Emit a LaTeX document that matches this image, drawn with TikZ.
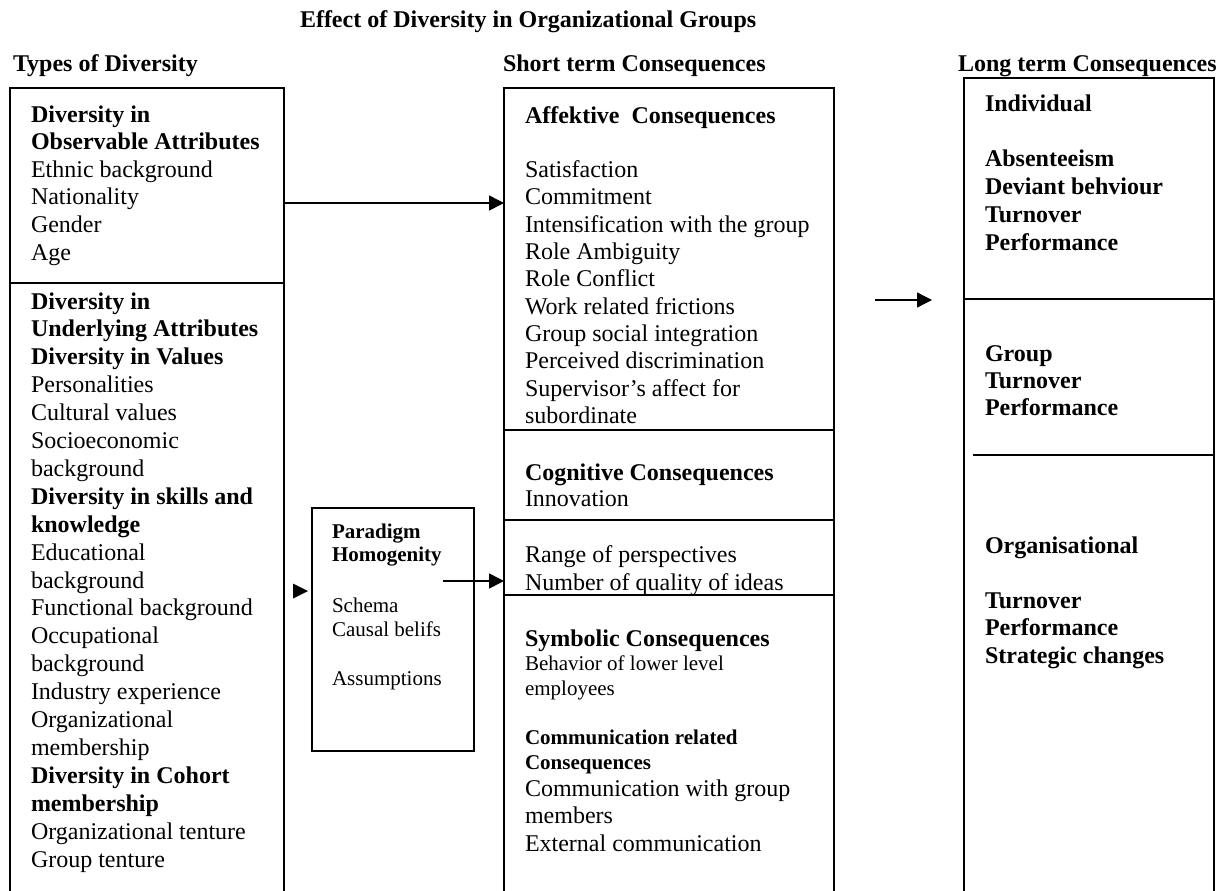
\documentclass[tikz,border=0pt]{standalone}
\usepackage{fontspec}
\setmainfont{Liberation Serif}
\usetikzlibrary{arrows.meta}
\newcommand\blk[3]{{\fontsize{#1}{#2}\selectfont\begin{tabular}[t]{@{}l@{}}#3\end{tabular}}}
\begin{document}
\begin{tikzpicture}[x=1pt,y=-1pt,
  frame/.style={draw, line width=1.7pt, anchor=north west, inner sep=0pt, outer sep=0pt},
  divider/.style={line width=1.7pt},
  txt/.style={anchor=base west, inner sep=0pt, outer sep=0pt},
  head/.style={txt, font=\fontsize{24}{27}\selectfont\bfseries},
  conn/.style={line width=1.6pt, -{Triangle[length=15pt,width=15pt]}}]
\useasboundingbox (0,0) rectangle (1223,891);

% boxes
\node[frame, minimum width=274pt, minimum height=830pt] (L) at (10,88) {};
\node[frame, minimum width=330pt, minimum height=830pt] (M) at (504,88) {};
\node[frame, minimum width=250pt, minimum height=840pt] (R) at (964,78) {};
\node[frame, minimum width=162pt, minimum height=243pt] (P) at (312,508) {};

% dividers
\draw[divider] (L.west |- 0,283) -- (L.east |- 0,283);
\draw[divider] (M.west |- 0,430) -- (M.east |- 0,430);
\draw[divider] (M.west |- 0,520) -- (M.east |- 0,520);
\draw[divider] (M.west |- 0,595) -- (M.east |- 0,595);
\draw[divider] (R.west |- 0,299) -- (R.east |- 0,299);
\coordinate (rd) at (973,455);
\draw[divider] (rd) -- (R.east |- rd);

% headings
\node[head] (title) at (300,28) {Effect of Diversity in Organizational Groups};
\node[head] (h1) at (13,71) {Types of Diversity};
\node[head] (h2) at (503,71) {Short term Consequences};
\node[head] (h3) at (958,71) {Long term Consequences};

% left texts
\node[txt] (l1) at (31,122) {\blk{24}{27.6}{\textbf{Diversity in}\\ \textbf{Observable Attributes}\\ Ethnic background\\ Nationality\\ Gender\\ Age}};
\node[txt] (l2) at (31,309) {\blk{24}{27.9}{\textbf{Diversity in}\\ \textbf{Underlying Attributes}\\ \textbf{Diversity in Values}\\ Personalities\\ Cultural values\\ Socioeconomic\\ background\\ \textbf{Diversity in skills and}\\ \textbf{knowledge}\\ Educational\\ background\\ Functional background\\ Occupational\\ background\\ Industry experience\\ Organizational\\ membership\\ \textbf{Diversity in Cohort}\\ \textbf{membership}\\ Organizational tenture\\ Group tenture}};

% paradigm box texts
\node[txt] (p1) at (332,538) {\blk{21}{23}{\textbf{Paradigm}\\ \textbf{Homogenity}}};
\node[txt] (p2) at (332,612) {\blk{21}{24.5}{Schema\\ Causal belifs\\ \\ Assumptions}};

% middle texts
\node[txt] (m1) at (525,123) {\blk{24}{27.3}{\textbf{Affektive\ \ Consequences}\\ \\ Satisfaction\\ Commitment\\ Intensification with the group\\ Role Ambiguity\\ Role Conflict\\ Work related frictions\\ Group social integration\\ Perceived discrimination\\ Supervisor’s affect for\\ subordinate}};
\node[txt] (m2) at (525,480) {\blk{24}{26.5}{\textbf{Cognitive Consequences}\\ Innovation}};
\node[txt] (m3) at (525,562) {\blk{24}{28}{Range of perspectives\\ Number of quality of ideas}};
\node[txt] (m4) at (525,646) {\blk{24}{27}{\textbf{Symbolic Consequences}}};
\node[txt] (m5) at (525,670) {\blk{21}{25}{Behavior of lower level\\ employees}};
\node[txt] (m6) at (525,744) {\blk{21}{25}{\textbf{Communication related}\\ \textbf{Consequences}}};
\node[txt] (m7) at (525,796) {\blk{24}{27.5}{Communication with group\\ members\\ External communication}};

% right texts
\node[txt] (r1) at (985,111) {\blk{24}{27.8}{\textbf{Individual}\\ \\ \textbf{Absenteeism}\\ \textbf{Deviant behviour}\\ \textbf{Turnover}\\ \textbf{Performance}}};
\node[txt] (r2) at (985,361) {\blk{24}{27}{\textbf{Group}\\ \textbf{Turnover}\\ \textbf{Performance}}};
\node[txt] (r3) at (985,553) {\blk{24}{27.5}{\textbf{Organisational}\\ \\ \textbf{Turnover}\\ \textbf{Performance}\\ \textbf{Strategic changes}}};

% connectors
\draw[conn] (L.east |- 0,203) -- (M.west |- 0,203);
\coordinate (pa) at (443,581);
\draw[conn] (pa) -- (M.west |- pa);
\coordinate (q1) at (875,300);
\coordinate (q2) at (932,300);
\draw[conn, line width=1.4pt] (q1) -- (q2);
\fill (308,591) -- (293,583.5) -- (293,598.5) -- cycle;
\end{tikzpicture}
\end{document}
